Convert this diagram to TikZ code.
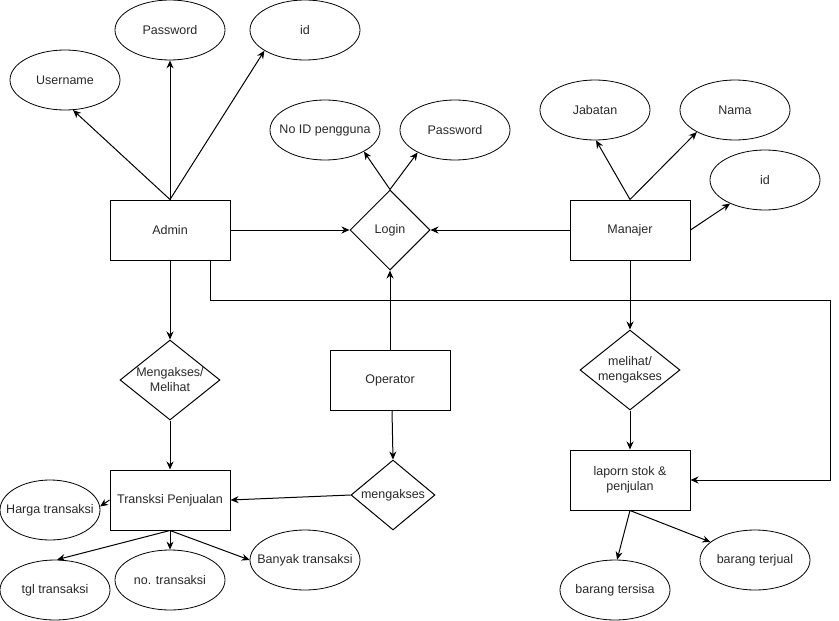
\documentclass[tikz,border=0pt]{standalone}
\usepackage{fontspec}
\setmainfont{Liberation Sans}
\usetikzlibrary{shapes.geometric,arrows.meta}
\definecolor{inkGray}{RGB}{40,40,40}
\newcommand{\DiaFont}{\fontsize{12.5}{15}\selectfont}
\tikzset{
  entityBox/.style={draw,line width=1pt,minimum width=120pt,minimum height=60pt,inner sep=0pt,align=center,font=\DiaFont,text=inkGray},
  attrOval/.style={draw,ellipse,line width=0.8pt,minimum width=110pt,minimum height=60pt,inner xsep=-20pt,inner ysep=0pt,font=\DiaFont,text=inkGray},
  relDiamond/.style={draw,diamond,line width=1pt,inner xsep=-20pt,inner ysep=-4pt,align=center,font=\DiaFont,text=inkGray},
  linkArrow/.style={-{Stealth[length=8pt,width=7pt]},line width=1pt},
}

\begin{document}
\begin{tikzpicture}[x=1pt,y=-1pt]
\useasboundingbox (0,0) rectangle (839,621);
\node[entityBox] (admin) at (170,230) {Admin};
\node[entityBox] (manajer) at (630,230) {Manajer};
\node[entityBox] (operator) at (390,380) {Operator};
\node[entityBox] (transksi) at (170,500) {Transksi Penjualan};
\node[entityBox] (laporan) at (630,480) {laporn stok \&\\penjulan};
\node[relDiamond,minimum width=80pt,minimum height=80pt] (login) at (390,230) {Login};
\node[relDiamond,minimum width=100pt,minimum height=80pt] (aksesAdmin) at (170,380) {Mengakses/\\Melihat};
\node[relDiamond,minimum width=84pt,minimum height=70pt] (aksesOp) at (393,495) {mengakses};
\node[relDiamond,minimum width=100pt,minimum height=80pt] (lihatManajer) at (630,370) {melihat/\\mengakses};
\node[attrOval] (userA) at (65,80) {Username};
\node[attrOval] (passA) at (170,30) {Password};
\node[attrOval] (idA) at (305,30) {id};
\node[attrOval] (noId) at (325,130) {No ID pengguna};
\node[attrOval] (passL) at (455,130) {Password};
\node[attrOval] (jabatan) at (595,110) {Jabatan};
\node[attrOval] (nama) at (735,110) {Nama};
\node[attrOval] (idM) at (765,180) {id};
\node[attrOval,minimum width=100pt] (harga) at (50,510) {Harga transaksi};
\node[attrOval] (tgl) at (55,590) {tgl transaksi};
\node[attrOval] (noTrans) at (170,580) {no. transaksi};
\node[attrOval] (banyak) at (305,560) {Banyak transaksi};
\node[attrOval] (tersisa) at (615,590) {barang tersisa};
\node[attrOval] (terjual) at (755,560) {barang terjual};
\coordinate (loopTop) at (830,300);
\draw[linkArrow] (admin.north) -- (userA.285);
\draw[linkArrow] (admin.north) -- (passA.south);
\draw[linkArrow] (admin.north) -- (idA.207);
\draw[linkArrow] (admin.east) -- (login.west);
\draw[linkArrow] (manajer.west) -- (login.east);
\draw[linkArrow] (operator.north) -- (login.south);
\draw[linkArrow] (login.north) -- (noId.331);
\draw[linkArrow] (login.north) -- (passL.211);
\draw[linkArrow] (manajer.north) -- (jabatan.272);
\draw[linkArrow] (manajer.north) -- (nama.210);
\draw[linkArrow] (manajer.east) -- (idM.214);
\draw[linkArrow] (admin.south) -- (aksesAdmin.north);
\draw[linkArrow] (aksesAdmin.south) -- (transksi.north);
\draw[linkArrow] ([xshift=2pt]operator.south) -- (aksesOp.north);
\draw[linkArrow] (aksesOp.west) -- (transksi.east);
\draw[linkArrow] (manajer.south) -- (lihatManajer.north);
\draw[linkArrow] (lihatManajer.south) -- (laporan.north);
\draw[linkArrow] ([xshift=-20pt]admin.south east) |- (loopTop) |- (laporan.east);
\draw[linkArrow] (transksi.west) -- (harga.4);
\draw[linkArrow] (transksi.south) -- (tgl.86);
\draw[linkArrow] (transksi.south) -- (noTrans.north);
\draw[linkArrow] (transksi.south) -- (banyak.west);
\draw[linkArrow] (laporan.south) -- (tersisa.86);
\draw[linkArrow] (laporan.south) -- (terjual.158);
\end{tikzpicture}
\end{document}
